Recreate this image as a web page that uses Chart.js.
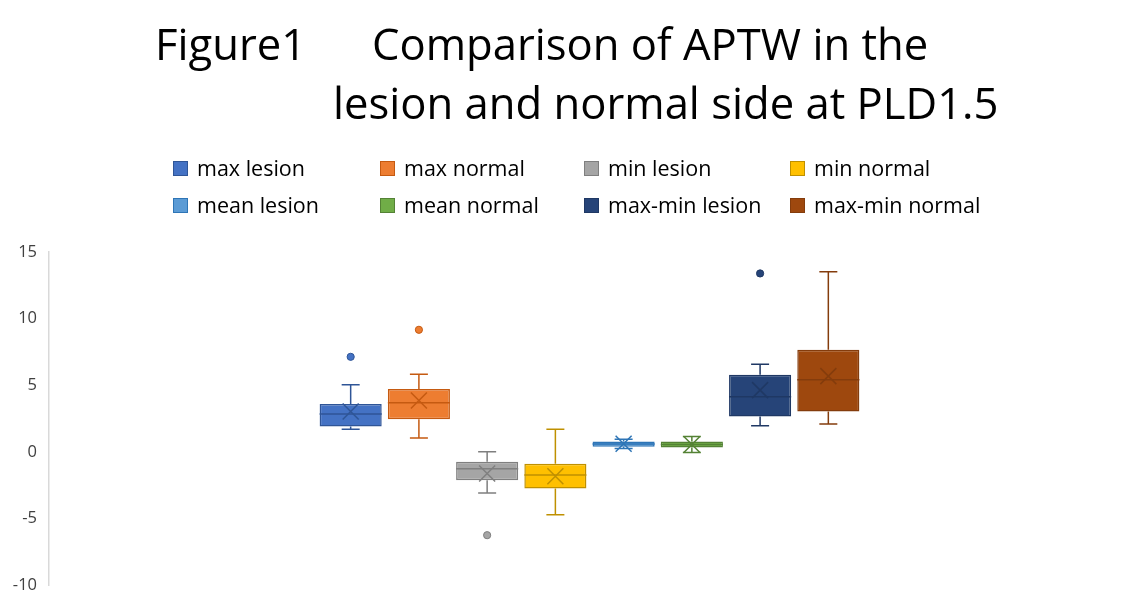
<!DOCTYPE html>
<html>
<head>
<meta charset="utf-8">
<script src="https://cdn.jsdelivr.net/npm/chart.js@4.4.1/dist/chart.umd.min.js"></script>
<style>
  body { margin: 0; background: #fff; }
  #wrap { position: relative; width: 1148px; height: 609px; font-family: 'Open Sans', sans-serif; }
  #chart { position: absolute; left: 0; top: 0; }
  .title { position: absolute; font-size: 43.6px; line-height: 44px; color: #000; white-space: nowrap; }
  .leg { position: absolute; font-size: 21.5px; line-height: 22px; color: #000; white-space: nowrap; }
  .sw { position: absolute; width: 15px; height: 15px; box-sizing: border-box; }
</style>
</head>
<body>
<div id="wrap">
  <canvas id="chart" width="1148" height="609"></canvas>
  <div class="title" style="left:155px; top:21px;">Figure1</div>
  <div class="title" style="left:372px; top:21px;">Comparison of APTW in the</div>
  <div class="title" style="left:333px; top:80px;">lesion and normal side at PLD1.5</div>
  <div id="legend"></div>
</div>
<script>
// box plot values
const seriesNames = ['max lesion', 'max normal', 'min lesion', 'min normal',
                     'mean lesion', 'mean normal', 'max-min lesion', 'max-min normal'];
const q1Values     = [1.90, 2.45, -2.13, -2.75, 0.38, 0.32, 2.65, 3.03];
const q3Values     = [3.58, 4.71, -0.75, -0.90, 0.77, 0.77, 5.78, 7.66];
const medianValues = [2.83, 3.68, -1.28, -1.75, 0.58, 0.55, 4.13, 5.41];
const meanValues   = [3.03, 3.85, -1.63, -1.83, 0.60, 0.55, 4.63, 5.68];
const whiskerLow   = [1.70, 1.03, -3.10, -4.73, 0.25, -0.05, 1.95, 2.08];
const whiskerHigh  = [5.03, 5.83, 0.00, 1.70, 0.95, 1.15, 6.58, 13.51];
const outlierValues = [[7.13], [9.16], [-6.26], [], [], [], [13.39], []];
const yTicks = [-10, -5, 0, 5, 10, 15];

const fillColors = ['#4472C4', '#ED7D31', '#A5A5A5', '#FFC000', '#5B9BD5', '#70AD47', '#264478', '#9E480E'];
const lineColors = ['#2F5597', '#C55A11', '#7F7F7F', '#BF9000', '#2E75B6', '#548235', '#1F3864', '#843C0C'];

// legend, 4 columns x 2 rows
const legendCols = [173, 380, 584, 790];
const legendRows = [161, 198];
const legendEl = document.getElementById('legend');
seriesNames.forEach((name, i) => {
    const left = legendCols[i % 4];
    const top = legendRows[Math.floor(i / 4)];
    const sw = document.createElement('div');
    sw.className = 'sw';
    sw.style.left = left + 'px';
    sw.style.top = top + 'px';
    sw.style.background = fillColors[i];
    sw.style.border = '1px solid ' + lineColors[i];
    legendEl.appendChild(sw);
    const t = document.createElement('div');
    t.className = 'leg';
    t.style.left = (left + 24) + 'px';
    t.style.top = (top - 4) + 'px';
    t.textContent = name;
    legendEl.appendChild(t);
});

// whiskers, medians, means and outliers drawn on top of the floating bars
const boxExtras = {
    id: 'boxExtras',
    beforeDatasetsDraw(chart) {
        const ctx = chart.ctx;
        const y = chart.scales.y;
        ctx.save();
        seriesNames.forEach((name, i) => {
            const bar = chart.getDatasetMeta(i).data[0];
            const x = bar.x;
            const cap = 9;
            ctx.strokeStyle = lineColors[i];
            ctx.lineWidth = 1.5;
            ctx.beginPath();
            ctx.moveTo(x, y.getPixelForValue(q3Values[i]));
            ctx.lineTo(x, y.getPixelForValue(whiskerHigh[i]));
            ctx.moveTo(x - cap, y.getPixelForValue(whiskerHigh[i]));
            ctx.lineTo(x + cap, y.getPixelForValue(whiskerHigh[i]));
            ctx.moveTo(x, y.getPixelForValue(q1Values[i]));
            ctx.lineTo(x, y.getPixelForValue(whiskerLow[i]));
            ctx.moveTo(x - cap, y.getPixelForValue(whiskerLow[i]));
            ctx.lineTo(x + cap, y.getPixelForValue(whiskerLow[i]));
            ctx.stroke();
        });
        ctx.restore();
    },
    afterDatasetsDraw(chart) {
        const ctx = chart.ctx;
        const y = chart.scales.y;
        ctx.save();
        seriesNames.forEach((name, i) => {
            const bar = chart.getDatasetMeta(i).data[0];
            const x = bar.x;
            const half = bar.width / 2;
            ctx.strokeStyle = lineColors[i];
            ctx.lineWidth = 1.5;
            // median
            const my = y.getPixelForValue(medianValues[i]);
            ctx.beginPath();
            ctx.moveTo(x - half, my);
            ctx.lineTo(x + half, my);
            ctx.stroke();
            // mean marker
            const ay = y.getPixelForValue(meanValues[i]);
            const s = 8;
            ctx.beginPath();
            ctx.moveTo(x - s, ay - s);
            ctx.lineTo(x + s, ay + s);
            ctx.moveTo(x + s, ay - s);
            ctx.lineTo(x - s, ay + s);
            ctx.stroke();
            // outliers
            outlierValues[i].forEach(v => {
                ctx.beginPath();
                ctx.arc(x, y.getPixelForValue(v), 3.6, 0, Math.PI * 2);
                ctx.fillStyle = fillColors[i];
                ctx.fill();
                ctx.lineWidth = 1;
                ctx.stroke();
            });
        });
        ctx.restore();
    }
};

const datasets = seriesNames.map((name, i) => ({
    label: name,
    data: [[q1Values[i], q3Values[i]]],
    backgroundColor: fillColors[i],
    borderColor: lineColors[i],
    borderWidth: 1.5,
    borderSkipped: false,
    categoryPercentage: 0.505,
    barPercentage: 0.91
}));

new Chart(document.getElementById('chart'), {
    type: 'bar',
    data: { labels: [''], datasets: datasets },
    options: {
        responsive: false,
        animation: false,
        layout: { padding: { top: 252, bottom: 24, right: 18, left: 0 } },
        plugins: {
            legend: { display: false },
            title: { display: false },
            tooltip: { enabled: false }
        },
        scales: {
            x: { display: false },
            y: {
                min: -10,
                max: 15,
                afterBuildTicks: axis => { axis.ticks = yTicks.map(v => ({ value: v })); },
                afterFit: axis => { axis.width = 49; },
                grid: { display: false, drawTicks: false },
                border: { display: true, color: '#D9D9D9', width: 1.5 },
                ticks: {
                    padding: 12,
                    color: '#404040',
                    font: { family: 'Open Sans', size: 16.5 }
                }
            }
        }
    },
    plugins: [boxExtras]
});
</script>
</body>
</html>
